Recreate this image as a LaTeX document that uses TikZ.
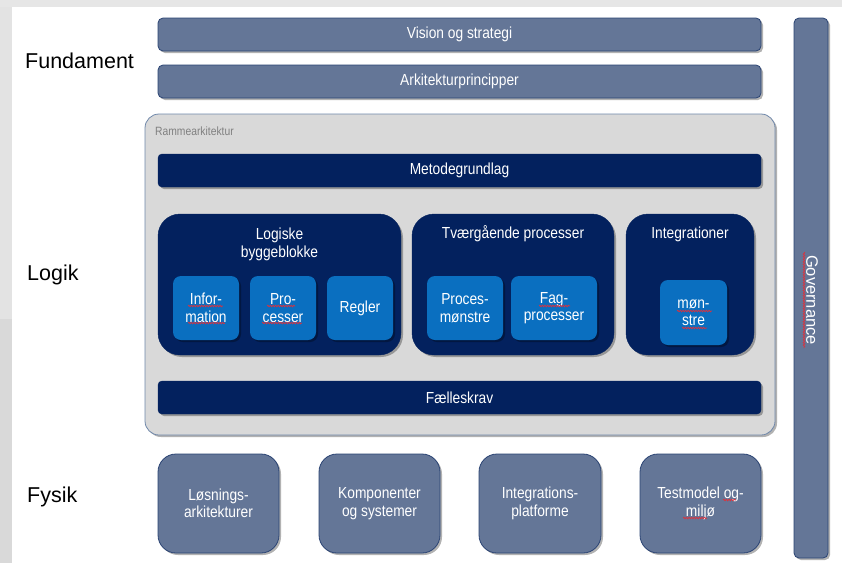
\documentclass[tikz,border=0pt]{standalone}
\usepackage{fontspec}
\setmainfont{Liberation Sans}
\newfontfamily\nfont[FakeStretch=0.86]{Liberation Sans}
\usetikzlibrary{shadows,decorations.pathmorphing}
\definecolor{slate}{HTML}{647697}
\definecolor{slateborder}{HTML}{2B4474}
\definecolor{navy}{HTML}{03215E}
\definecolor{bblue}{HTML}{0A6FC0}
\definecolor{contgray}{HTML}{D9D9D9}
\definecolor{contborder}{HTML}{7088AA}
\definecolor{bgtop}{HTML}{E6E6E6}
\definecolor{bgleftA}{HTML}{E3E3E3}
\definecolor{bgleftB}{HTML}{D9D9D9}
\definecolor{labelgray}{HTML}{808080}
\definecolor{squigred}{HTML}{E0303A}
\tikzset{
  shad/.style={drop shadow={shadow xshift=2pt, shadow yshift=-2pt, opacity=0.3, fill=black}},
  boxtext/.style={text=white, font=\nfont\fontsize{16}{17.5}\selectfont, align=center, inner sep=0pt},
  slatebar/.style={shad, draw=slateborder, line width=0.8pt, fill=slate, rounded corners=5pt, boxtext},
  navybar/.style={shad, draw=navy, fill=navy, rounded corners=4pt, boxtext},
  navygroup/.style={shad, draw=navy, fill=navy, rounded corners=22pt, inner sep=0pt},
  bluebox/.style={shad, fill=bblue, rounded corners=8pt, boxtext},
  fysbox/.style={shad, draw=slateborder, line width=0.8pt, fill=slate, rounded corners=18pt, boxtext},
  container/.style={shad, draw=contborder, line width=0.8pt, fill=contgray, rounded corners=14pt, inner sep=0pt},
  grouptitle/.style={boxtext},
  sidelabel/.style={anchor=west, inner sep=0pt, font=\fontsize{21.5}{25}\selectfont, text=black},
  squig/.style={draw=squigred, line width=0.7pt, decorate, decoration={snake, amplitude=0.8pt, segment length=2.6pt}},
}
\begin{document}
\begin{tikzpicture}[x=1pt,y=-1pt]
\useasboundingbox (0,0) rectangle (842,563);
\fill[white] (0,0) rectangle (842,563);
\fill[bgtop] (0,0) rectangle (842,7);
\fill[bgleftA] (0,7) rectangle (12,319);
\fill[bgleftB] (0,319) rectangle (12,563);

% side labels
\node[sidelabel] (lfund) at (25,61) {Fundament};
\node[sidelabel] (llog) at (27,275) {Logik};
\node[sidelabel] (lfys) at (27,497) {Fysik};

% Fundament
\node[slatebar, minimum width=603pt, minimum height=33pt] (vision) at (459.5,34.5) {Vision og strategi};
\node[slatebar, minimum width=603pt, minimum height=33pt] (princ) at (459.5,81.5) {Arkitekturprincipper};

% Governance
\node[slatebar, minimum width=34pt, minimum height=540pt] (gov) at (811,288) {};
\node[text=white, inner sep=0pt, font=\fontsize{16.5}{19}\selectfont, rotate=-90] (govtext) at (812,300) {Governance};

% Rammearkitektur
\node[container, minimum width=630pt, minimum height=321pt] (ramme) at (460,274.5) {};
\node[anchor=west, inner sep=0pt, text=labelgray, font=\nfont\fontsize{12}{14}\selectfont] (rammetext) at (155,131) {Rammearkitektur};

\node[navybar, minimum width=603pt, minimum height=33pt] (metode) at (459.5,170.5) {Metodegrundlag};
\node[navybar, minimum width=603pt, minimum height=33pt] (faelles) at (459.5,397.5) {Fælleskrav};

% groups
\node[navygroup, minimum width=243pt, minimum height=141pt] (glog) at (279.5,284.5) {};
\node[grouptitle] (tlog) at (279.5,244.5) {Logiske\\byggeblokke};
\node[navygroup, minimum width=202pt, minimum height=141pt] (gtvg) at (513,284.5) {};
\node[grouptitle] (ttvg) at (513,234) {Tværgående processer};
\node[navygroup, minimum width=128pt, minimum height=141pt] (gint) at (690,284.5) {};
\node[grouptitle] (tint) at (690,234) {Integrationer};

% inner boxes
\node[bluebox, minimum width=66pt, minimum height=64pt] (info) at (206,308) {Infor-\\mation};
\node[bluebox, minimum width=66pt, minimum height=64pt] (proc) at (283,308) {Pro-\\cesser};
\node[bluebox, minimum width=66pt, minimum height=64pt] (regl) at (360,308) {Regler};
\node[bluebox, minimum width=76pt, minimum height=64pt] (pmon) at (465,308) {Proces-\\mønstre};
\node[bluebox, minimum width=86pt, minimum height=64pt] (fagp) at (554,308) {Fag-\\processer};
\node[bluebox, minimum width=67pt, minimum height=65pt] (mon) at (693.5,312.5) {møn-\\stre};

% Fysik
\node[fysbox, minimum width=121pt, minimum height=99pt] (los) at (218.5,503.5) {Løsnings-\\arkitekturer};
\node[fysbox, minimum width=121pt, minimum height=99pt] (komp) at (379.5,503.5) {Komponenter\\og systemer};
\node[fysbox, minimum width=122pt, minimum height=99pt] (intp) at (540,503.5) {Integrations-\\platforme};
\node[fysbox, minimum width=121pt, minimum height=99pt] (test) at (700.5,503.5) {Testmodel og-\\miljø};

% spell-check squiggles
\path[squig] (188,306) -- (223,306);
\path[squig] (188,323) -- (225,323);
\path[squig] (267,306) -- (295,306);
\path[squig] (262,323) -- (302,323);
\path[squig] (539,306) -- (570,306);
\path[squig] (677,311) -- (712,311);
\path[squig] (682,328) -- (707,328);
\path[squig] (723,500) -- (736,500);
\path[squig] (683,518) -- (707,518);
\path[squig] (804,252) -- (804,348);
\end{tikzpicture}
\end{document}
